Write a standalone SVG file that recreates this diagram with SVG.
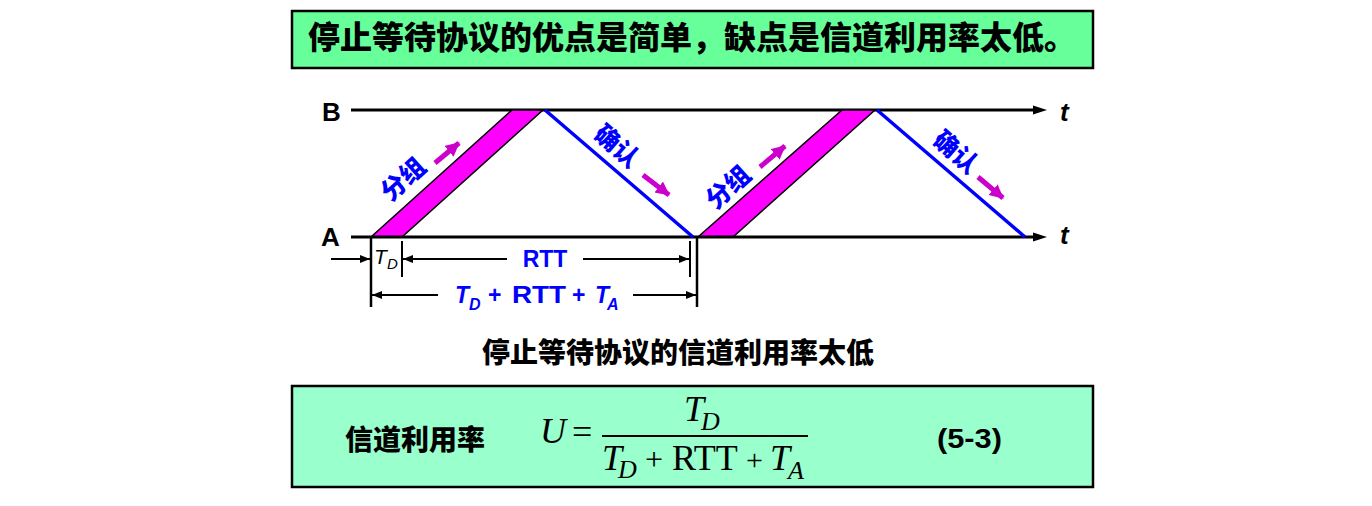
<svg xmlns="http://www.w3.org/2000/svg" width="1372" height="506" viewBox="0 0 1372 506">
<style>
.cjk{font-family:"Liberation Sans","Noto Sans CJK SC",sans-serif;font-weight:900;}
.lbl{font-family:"Liberation Sans","Noto Sans CJK SC",sans-serif;font-weight:900;fill:#0000ff;font-size:25px;}
.axis{stroke:#000;stroke-width:3;}
.pkt{fill:#ff00ff;stroke:#000;stroke-width:1.5;}
.ack{stroke:#0000ff;stroke-width:3.5;fill:none;}
.mag{stroke:#cc00cc;stroke-width:5;fill:none;}
.dim{stroke:#000;stroke-width:2;fill:none;}
.ser{font-family:"Liberation Serif",serif;fill:#000;}
.it{font-style:italic;}
</style>
<defs>
<marker id="mh" markerUnits="userSpaceOnUse" markerWidth="16" markerHeight="16" refX="13" refY="7" orient="auto">
<path d="M0,0 L14,7 L0,14 Z" fill="#cc00cc"/>
</marker>
<marker id="dh" markerUnits="userSpaceOnUse" markerWidth="12" markerHeight="10" refX="10" refY="4" orient="auto">
<path d="M0,0 L10,4 L0,8 Z" fill="#000"/>
</marker>
</defs>

<g id="title">
<rect x="292" y="11" width="801" height="57" fill="#66ff99" stroke="#000" stroke-width="2.5"/>
<text class="cjk" x="308" y="49" font-size="32" fill="#000">停止等待协议的优点是简单，缺点是信道利用率太低。</text>
</g>

<g id="axisB">
<line class="axis" x1="351" y1="110" x2="1036" y2="110"/>
<path d="M1033,105.5 L1047,110 L1033,114.5 Z" fill="#000"/>
<text x="322" y="121" font-family="Liberation Sans, sans-serif" font-weight="bold" font-size="26" fill="#000">B</text>
<text x="1060" y="121" font-family="Liberation Sans, sans-serif" font-weight="bold" font-style="italic" font-size="26" fill="#000">t</text>
</g>

<g id="packet1">
<polygon class="pkt" points="371,237 402,237 543,110 512,110"/>
</g>
<g id="packet2">
<polygon class="pkt" points="698,237 733,237 875,110 842,110"/>
</g>

<g id="axisA">
<line class="axis" x1="351" y1="237" x2="1036" y2="237"/>
<path d="M1033,232.5 L1047,237 L1033,241.5 Z" fill="#000"/>
<text x="321" y="246" font-family="Liberation Sans, sans-serif" font-weight="bold" font-size="26" fill="#000">A</text>
<text x="1060" y="244" font-family="Liberation Sans, sans-serif" font-weight="bold" font-style="italic" font-size="26" fill="#000">t</text>
</g>

<g id="connectors">
<line class="ack" x1="545" y1="110" x2="693" y2="237"/>
<line class="ack" x1="877" y1="110" x2="1025" y2="237"/>
<line class="mag" x1="435" y1="163" x2="459" y2="143" marker-end="url(#mh)"/>
<line class="mag" x1="643" y1="175" x2="669" y2="195" marker-end="url(#mh)"/>
<line class="mag" x1="760" y1="167" x2="785" y2="146" marker-end="url(#mh)"/>
<line class="mag" x1="978" y1="177" x2="1003" y2="198" marker-end="url(#mh)"/>
</g>

<g id="labels">
<text class="lbl" x="403" y="188" text-anchor="middle" transform="rotate(-42 403 179)">分组</text>
<text class="lbl" x="617" y="155" text-anchor="middle" transform="rotate(41 617 146)">确认</text>
<text class="lbl" x="728" y="196" text-anchor="middle" transform="rotate(-42 728 187)">分组</text>
<text class="lbl" x="956" y="161" text-anchor="middle" transform="rotate(41 956 152)">确认</text>
</g>

<g id="dimensions">
<line x1="371" y1="237" x2="371" y2="307" stroke="#000" stroke-width="2.5"/>
<line x1="697" y1="237" x2="697" y2="307" stroke="#000" stroke-width="2.5"/>
<line class="dim" x1="402" y1="241" x2="402" y2="277"/>
<line class="dim" x1="690" y1="241" x2="690" y2="277"/>
<line class="dim" x1="331" y1="259" x2="370" y2="259" marker-end="url(#dh)"/>
<line class="dim" x1="507" y1="259" x2="403" y2="259" marker-end="url(#dh)"/>
<line class="dim" x1="583" y1="259" x2="689" y2="259" marker-end="url(#dh)"/>
<line class="dim" x1="438" y1="295" x2="372" y2="295" marker-end="url(#dh)"/>
<line class="dim" x1="633" y1="295" x2="696" y2="295" marker-end="url(#dh)"/>
<text font-family="Liberation Sans, sans-serif" font-style="italic" fill="#000"><tspan x="374" y="264" font-size="21">T</tspan><tspan x="387" y="269" font-size="15">D</tspan></text>
<text x="545" y="267" text-anchor="middle" font-family="Liberation Sans, sans-serif" font-weight="bold" font-size="23" fill="#0000ff">RTT</text>
<text font-family="Liberation Sans, sans-serif" font-weight="bold" fill="#0000ff" font-size="23"><tspan x="455" y="303" font-style="italic">T</tspan><tspan x="469" y="310" font-size="16" font-style="italic">D</tspan><tspan x="488" y="303">+</tspan><tspan x="512" y="303" textLength="54" lengthAdjust="spacingAndGlyphs">RTT</tspan><tspan x="572" y="303">+</tspan><tspan x="595" y="303" font-style="italic">T</tspan><tspan x="607" y="310" font-size="16" font-style="italic">A</tspan></text>
</g>

<g id="caption">
<text class="cjk" x="482" y="363" font-size="28" fill="#000">停止等待协议的信道利用率太低</text>
</g>

<g id="formula">
<rect x="292" y="386" width="801" height="101" fill="#99ffcc" stroke="#000" stroke-width="2.5"/>
<text class="cjk" x="345" y="450" font-size="28" fill="#000">信道利用率</text>
<text class="ser" font-size="36"><tspan x="540" y="443" font-style="italic">U</tspan><tspan x="572" y="444">=</tspan></text>
<line x1="602" y1="436" x2="808" y2="436" stroke="#000" stroke-width="2"/>
<text class="ser it" font-size="36"><tspan x="684" y="421">T</tspan><tspan x="701" y="430" font-size="26">D</tspan></text>
<text class="ser" font-size="36"><tspan x="602" y="470" font-style="italic">T</tspan><tspan x="618" y="478" font-size="26" font-style="italic">D</tspan><tspan x="645" y="470" font-size="32">+</tspan><tspan x="672" y="470">RTT</tspan><tspan x="746" y="470" font-size="30">+</tspan><tspan x="770" y="470" font-style="italic">T</tspan><tspan x="788" y="479" font-size="26" font-style="italic">A</tspan></text>
<text x="937" y="448" font-family="Liberation Sans, sans-serif" font-weight="bold" font-size="27" fill="#000" textLength="65" lengthAdjust="spacingAndGlyphs">(5-3)</text>
</g>
</svg>
